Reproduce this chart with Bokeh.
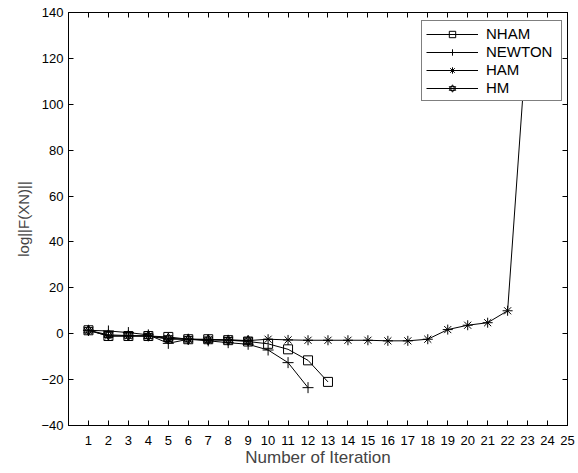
from bokeh.plotting import figure
from bokeh.models import FixedTicker, LinearAxis, Legend, LegendItem, Range1d
from bokeh.embed import file_html
from bokeh.resources import INLINE

# ---- data ----
iters_nham = list(range(1, 14))
nham = [1.5, -1.0, -1.0, -1.0, -1.4, -2.4, -2.4, -2.8, -3.4, -4.4, -6.8, -11.6, -21.0]

iters_newton = list(range(1, 13))
newton = [1.5, 1.2, 0.5, -0.5, -4.2, -2.4, -3.1, -3.9, -4.6, -7.1, -12.6, -23.5]

iters_ham = list(range(1, 24))
ham = [1.5, -1.0, -1.0, -1.0, -2.4, -2.4, -2.7, -2.7, -3.0, -2.4, -2.7, -2.85, -2.85,
       -2.85, -2.85, -3.1, -3.1, -2.4, 1.8, 3.7, 4.8, 10.0, 133.0]

iters_hm = list(range(1, 10))
hm = [1.5, -0.5, -0.8, -1.0, -2.0, -2.4, -2.6, -2.8, -3.0]

x_ticks = list(range(1, 26))
y_ticks = list(range(-40, 141, 20))

FONT = "Liberation Sans"

p = figure(width=578, height=473, output_backend="svg", toolbar_location=None,
           x_range=Range1d(0, 25), y_range=Range1d(-40, 140),
           min_border_left=68, min_border_right=11, min_border_top=12, min_border_bottom=48)
p.background_fill_color = "white"
p.border_fill_color = "white"
p.outline_line_color = "black"
p.outline_line_width = 1
p.xgrid.visible = False
p.ygrid.visible = False

def style_axis(ax):
    ax.major_tick_in = 5
    ax.major_tick_out = 0
    ax.minor_tick_in = 5
    ax.minor_tick_out = 0
    ax.axis_line_color = "black"
    ax.major_tick_line_color = "black"
    ax.minor_tick_line_color = "black"
    ax.major_label_text_font = FONT
    ax.major_label_text_color = "black"
    ax.major_label_text_font_size = "13px"

xa = p.xaxis[0]
xa.ticker = FixedTicker(ticks=x_ticks)
style_axis(xa)
xa.major_label_standoff = 10
xa.axis_label = "Number of Iteration"
xa.axis_label_text_font = FONT
xa.axis_label_text_font_size = "17px"
xa.axis_label_text_font_style = "normal"
xa.axis_label_standoff = 0

ya = p.yaxis[0]
ya.ticker = FixedTicker(ticks=y_ticks)
style_axis(ya)
ya.major_label_standoff = 5
ya.axis_label = "log||F(XN)||"
ya.axis_label_text_font = FONT
ya.axis_label_text_font_size = "15px"
ya.axis_label_text_font_style = "normal"
ya.axis_label_standoff = 6

# box-style inward ticks on top and right (minor ticks only, so no labels)
top = LinearAxis(ticker=FixedTicker(ticks=[], minor_ticks=x_ticks))
style_axis(top)
top.major_label_standoff = 0
p.add_layout(top, "above")
right = LinearAxis(ticker=FixedTicker(ticks=[], minor_ticks=y_ticks))
style_axis(right)
right.major_label_standoff = 0
p.add_layout(right, "right")

items = []

l1 = p.line(iters_nham, nham, line_color="black", line_width=1)
m1 = p.scatter(iters_nham, nham, marker="square", size=9, fill_color=None, line_color="black", line_width=1)
items.append(LegendItem(label="NHAM", renderers=[l1, m1]))

l2 = p.line(iters_newton, newton, line_color="black", line_width=1)
m2 = p.scatter(iters_newton, newton, marker="cross", size=11, line_color="black", line_width=1)
items.append(LegendItem(label="NEWTON", renderers=[l2, m2]))

l3 = p.line(iters_ham, ham, line_color="black", line_width=1)
m3 = p.scatter(iters_ham, ham, marker="asterisk", size=10, line_color="black", line_width=1)
items.append(LegendItem(label="HAM", renderers=[l3, m3]))

l4 = p.line(iters_hm, hm, line_color="black", line_width=1)
m4a = p.scatter(iters_hm, hm, marker="triangle", size=9, fill_color=None, line_color="black", line_width=1)
m4b = p.scatter(iters_hm, hm, marker="inverted_triangle", size=9, fill_color=None, line_color="black", line_width=1)
items.append(LegendItem(label="HM", renderers=[l4, m4a, m4b]))

legend = Legend(items=items, location=(353, 324))
legend.border_line_color = "black"
legend.border_line_width = 1
legend.background_fill_color = "white"
legend.background_fill_alpha = 1
legend.padding = 4
legend.margin = 0
legend.spacing = 1
legend.glyph_width = 52
legend.glyph_height = 16
legend.label_height = 16
legend.label_width = 71
legend.label_standoff = 8
legend.label_text_font = FONT
legend.label_text_font_size = "15px"
legend.label_text_color = "black"
p.add_layout(legend, "center")

open("out.html", "w").write(file_html(p, INLINE))
